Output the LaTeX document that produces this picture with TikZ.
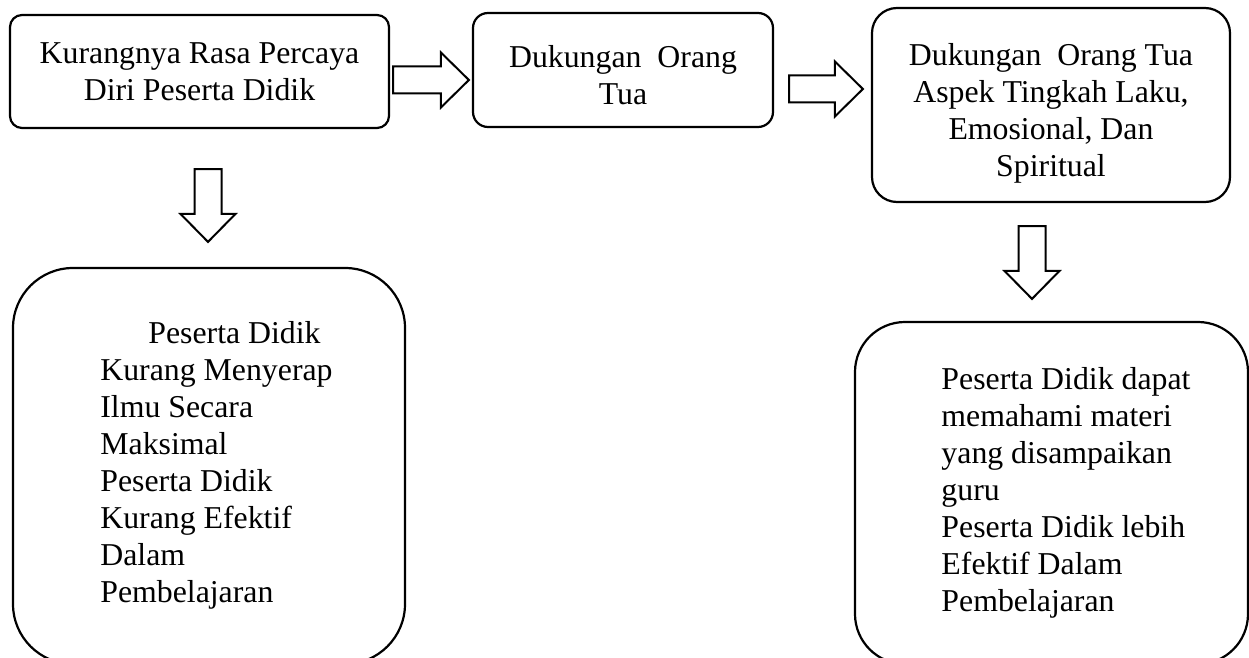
\documentclass[tikz,border=0pt]{standalone}
\usepackage{fontspec}
\setmainfont{Liberation Serif}
\usetikzlibrary{calc}
\tikzset{
  kotak/.style={draw, line width=1.1pt, align=center},
  panah/.style={draw, line width=1pt, line join=miter, to path={
    let \p1=(\tikztostart), \p2=(\tikztotarget),
        \n1={atan2(\y2-\y1,\x2-\x1)} in
    ($(\p1)+(\n1+90:6.75pt)$)
    -- ($(\p2)+(\n1+180:14pt)+(\n1+90:6.75pt)$)
    -- ($(\p2)+(\n1+180:14pt)+(\n1+90:13.75pt)$)
    -- (\p2)
    -- ($(\p2)+(\n1+180:14pt)+(\n1-90:13.75pt)$)
    -- ($(\p2)+(\n1+180:14pt)+(\n1-90:6.75pt)$)
    -- ($(\p1)+(\n1-90:6.75pt)$)
    -- cycle}}
}
\begin{document}
\begin{tikzpicture}[x=0.5pt, y=-0.5pt, font=\fontsize{15.9}{18.5}\selectfont]
      \clip (0,0) rectangle (1249,658);
      \node[kotak, rounded corners=6pt, minimum width=189.5pt, minimum height=56.5pt]
        (kurang) at (199.5,71.5) {Kurangnya Rasa Percaya\\Diri Peserta Didik};
      \node[kotak, rounded corners=7.5pt, minimum width=150pt, minimum height=57pt]
        (dukungan) at (623,70) {\rule{0pt}{16pt}Dukungan\ \ Orang\\Tua};
      \node[kotak, rounded corners=12.5pt, minimum width=179pt, minimum height=97pt]
        (aspek) at (1051,105) {\rule{0pt}{19pt}Dukungan\ \ Orang Tua\\Aspek Tingkah Laku,\\Emosional, Dan\\Spiritual};
      \node[kotak, rounded corners=30pt, minimum width=196pt, minimum height=198pt]
        (kurangserap) at (209,466) {\begin{tabular}{@{\hspace{7.5pt}}l@{}}
          \hspace*{24pt}Peserta Didik\\Kurang Menyerap\\Ilmu Secara\\Maksimal\\
          Peserta Didik\\Kurang Efektif\\Dalam\\Pembelajaran\end{tabular}};
      \node[kotak, rounded corners=25pt, minimum width=196.5pt, minimum height=171pt]
        (paham) at (1051.5,493) {\begin{tabular}{@{\hspace{14.5pt}}l@{}}
          Peserta Didik dapat\\memahami materi\\yang disampaikan\\guru\\
          Peserta Didik lebih\\Efektif Dalam\\Pembelajaran\end{tabular}};
      \draw[panah] ($(kurang.east)+(3,8.5)$) to ($(dukungan.west)+(-3,10)$);
      \draw[panah] ($(dukungan.east)+(15,19)$) to ($(aspek.west)+(-8,-16)$);
      \draw[panah] ($(kurang.south)+(8.5,40)$) to ($(kurangserap.north)+(-1,-25)$);
      \draw[panah] ($(aspek.south)+(-19,23)$) to ($(paham.north)+(-19.5,-22)$);
    \end{tikzpicture}
\end{document}
